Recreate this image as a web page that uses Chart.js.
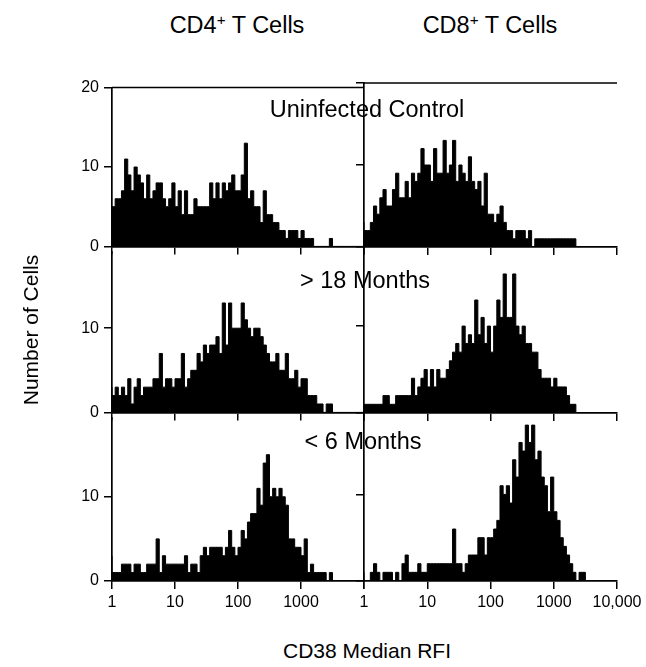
<!DOCTYPE html>
<html>
<head>
<meta charset="utf-8">
<script src="https://cdn.jsdelivr.net/npm/chart.js@4.4.0/dist/chart.umd.min.js"></script>
<style>
	body { margin: 0; background: #fff; }
	#root { position: relative; width: 646px; height: 667px; overflow: hidden; font-family: "Liberation Sans", Arial, sans-serif; color: #000; }
	#root canvas { position: absolute; }
	.lbl { position: absolute; white-space: nowrap; line-height: 1; transform: translate(-50%, -50%); }
	.lbl sup { font-size: 65%; line-height: 0; vertical-align: 0.55em; }
	.vert { transform: translate(-50%, -50%) rotate(-90deg); }
</style>
</head>
<body>
<div id="root"></div>
<script>
// histogram counts, 20 bins per decade starting at RFI = 1
var cd4Uninfected = [
	4, 5, 6, 6, 7, 11, 9, 7, 10, 9,
	8, 6, 9, 6, 7, 8, 8, 6, 5, 6,
	8, 5, 7, 4, 7, 4, 4, 6, 5, 5,
	5, 5, 8, 6, 8, 6, 8, 7, 8, 9,
	7, 7, 9, 13, 6, 7, 5, 5, 3, 7,
	4, 4, 3, 3, 2, 2, 1, 2, 2, 2,
	1, 2, 1, 1, 1, 0, 0, 0, 0, 0,
	1, 0, 0, 0, 0, 0, 0, 0, 0, 0
];
var cd8Uninfected = [
	3, 2, 2, 3, 5, 4, 6, 7, 5, 5,
	7, 9, 6, 6, 8, 6, 9, 8, 9, 12,
	10, 10, 8, 12, 9, 9, 13, 9, 10, 13,
	8, 10, 9, 8, 11, 8, 7, 8, 5, 9,
	4, 4, 3, 4, 5, 3, 2, 2, 1, 2,
	2, 2, 1, 2, 0, 1, 1, 1, 1, 1,
	1, 1, 1, 1, 1, 1, 1, 1, 0, 0,
	0, 0, 0, 0, 0, 0, 0, 0, 0, 0
];
var cd4Over18 = [
	3, 2, 3, 2, 3, 2, 4, 1, 3, 4,
	2, 3, 3, 3, 4, 4, 7, 3, 4, 4,
	3, 4, 4, 7, 3, 4, 5, 5, 7, 6,
	8, 7, 8, 8, 9, 7, 13, 8, 13, 10,
	10, 10, 13, 11, 10, 9, 10, 10, 9, 8,
	7, 6, 6, 7, 5, 5, 7, 4, 4, 5,
	3, 4, 4, 2, 2, 2, 1, 1, 0, 1,
	1, 0, 0, 0, 0, 0, 0, 0, 0, 0
];
var cd8Over18 = [
	1, 1, 1, 1, 1, 1, 1, 2, 2, 1,
	1, 2, 2, 2, 2, 2, 4, 2, 3, 4,
	5, 3, 5, 3, 5, 4, 4, 5, 6, 7,
	8, 7, 10, 8, 9, 8, 13, 9, 11, 8,
	10, 7, 10, 13, 11, 16, 11, 11, 16, 10,
	9, 10, 8, 8, 7, 7, 5, 4, 4, 4,
	3, 4, 3, 3, 3, 2, 1, 1, 0, 0,
	0, 0, 0, 0, 0, 0, 0, 0, 0, 0
];
var cd4Under6 = [
	3, 1, 1, 1, 2, 2, 2, 1, 2, 2,
	1, 1, 2, 2, 2, 5, 1, 3, 2, 2,
	2, 2, 2, 2, 3, 1, 2, 2, 1, 3,
	4, 3, 4, 4, 4, 4, 3, 4, 6, 4,
	3, 4, 6, 5, 7, 8, 8, 11, 9, 14,
	15, 10, 11, 10, 11, 10, 9, 5, 5, 4,
	4, 3, 5, 1, 2, 1, 1, 1, 1, 0,
	1, 0, 0, 0, 0, 0, 0, 0, 0, 0
];
var cd8Under6 = [
	1, 0, 0, 1, 2, 1, 0, 1, 1, 1,
	0, 1, 0, 2, 3, 1, 1, 1, 2, 1,
	1, 2, 2, 2, 2, 2, 2, 2, 2, 6,
	2, 2, 1, 2, 3, 3, 3, 5, 5, 3,
	5, 5, 6, 7, 11, 10, 11, 9, 14, 12,
	16, 15, 18, 16, 18, 14, 15, 12, 11, 8,
	12, 8, 7, 5, 4, 3, 2, 1, 0, 1,
	1, 0, 0, 0, 0, 0, 0, 0, 0, 0
];

var columnNames = ['CD4', 'CD8'];
var rowNames = ['Uninfected Control', '> 18 Months', '< 6 Months'];
var xTicks = [1, 10, 100, 1000, 10000];
var yTicks = [0, 10, 20];
var rowMax = [20, 19.1, 19.4];
var panels = [
	[cd4Uninfected, cd8Uninfected],
	[cd4Over18, cd8Over18],
	[cd4Under6, cd8Under6]
];

var binsPerDecade = 20;
var colX = [[112, 364], [364, 617]];
var rowY = [[83, 247], [247, 413], [413, 581]];
var root = document.getElementById('root');

Chart.defaults.font.family = '"Liberation Sans", Arial, sans-serif';
Chart.defaults.color = '#000';

function stepPoints(counts) {
	var pts = [];
	for (var i = 0; i < counts.length; i++) {
		pts.push({ x: Math.pow(10, i / binsPerDecade), y: counts[i] });
	}
	pts.push({ x: Math.pow(10, counts.length / binsPerDecade), y: 0 });
	return pts;
}

// frame line along the top of the first row
var topLine = {
	id: 'topLine',
	afterDraw: function (chart) {
		var a = chart.chartArea, ctx = chart.ctx;
		ctx.save();
		ctx.strokeStyle = '#000';
		ctx.lineWidth = 1.5;
		ctx.beginPath();
		ctx.moveTo(a.left, a.top);
		ctx.lineTo(a.right, a.top);
		ctx.stroke();
		ctx.restore();
	}
};

function makePanel(row, col) {
	var L = colX[col][0], R = colX[col][1], T = rowY[row][0], B = rowY[row][1];
	var padL = 60, padR = 32, padT = 10, padB = row === 2 ? 40 : 14;
	var w = R - L + padL + padR, h = B - T + padT + padB;
	var cv = document.createElement('canvas');
	cv.width = w;
	cv.height = h;
	cv.style.left = (L - padL) + 'px';
	cv.style.top = (T - padT) + 'px';
	cv.style.width = w + 'px';
	cv.style.height = h + 'px';
	root.appendChild(cv);

	var axisGrid = { drawOnChartArea: false, drawTicks: true, tickLength: 8, color: '#000', lineWidth: 1.5 };
	var axisBorder = { display: true, color: '#000', width: 1.7 };

	return new Chart(cv, {
		type: 'line',
		data: {
			datasets: [{
				data: stepPoints(panels[row][col]),
				stepped: 'after',
				fill: 'origin',
				backgroundColor: '#000',
				borderColor: '#000',
				borderWidth: 1,
				pointRadius: 0
			}]
		},
		options: {
			responsive: false,
			animation: false,
			devicePixelRatio: 1,
			layout: { padding: { left: 0, right: padR, top: padT, bottom: 0 } },
			plugins: { legend: { display: false }, tooltip: { enabled: false } },
			scales: {
				x: {
					type: 'logarithmic',
					min: 1,
					max: 10000,
					afterBuildTicks: function (s) {
						s.ticks = xTicks.map(function (v) { return { value: v }; });
					},
					afterFit: function (s) { s.height = padB; },
					grid: axisGrid,
					border: axisBorder,
					ticks: {
						display: row === 2,
						padding: 4,
						maxRotation: 0,
						autoSkip: false,
						font: { size: 16 },
						callback: function (v) {
							if (v >= 10000) return col === 0 ? '' : '10,000';
							return String(v);
						}
					}
				},
				y: {
					min: 0,
					max: rowMax[row],
					afterBuildTicks: function (s) {
						s.ticks = yTicks.filter(function (v) { return v <= rowMax[row]; })
							.map(function (v) { return { value: v }; });
					},
					afterFit: function (s) { s.width = padL; },
					grid: axisGrid,
					border: axisBorder,
					ticks: { display: col === 0, padding: 5, font: { size: 16 } }
				}
			}
		},
		plugins: row === 0 ? [topLine] : []
	});
}

function addLabel(html, x, y, size, extra) {
	var d = document.createElement('div');
	d.className = 'lbl' + (extra ? ' ' + extra : '');
	d.innerHTML = html;
	d.style.left = x + 'px';
	d.style.top = y + 'px';
	d.style.fontSize = size + 'px';
	root.appendChild(d);
}

for (var r = 0; r < 3; r++) {
	for (var c = 0; c < 2; c++) {
		makePanel(r, c);
	}
}

addLabel(columnNames[0] + '<sup>+</sup> T Cells', 237, 26, 23.5);
addLabel(columnNames[1] + '<sup>+</sup> T Cells', 490, 26, 23.5);
addLabel(rowNames[0], 367, 110, 23.5);
addLabel('&gt; 18 Months', 365, 281, 23.5);
addLabel('&lt; 6 Months', 363, 442, 23.5);
addLabel('Number of Cells', 30, 330, 21, 'vert');
addLabel('CD38 Median RFI', 367, 650, 21);
</script>
</body>
</html>
